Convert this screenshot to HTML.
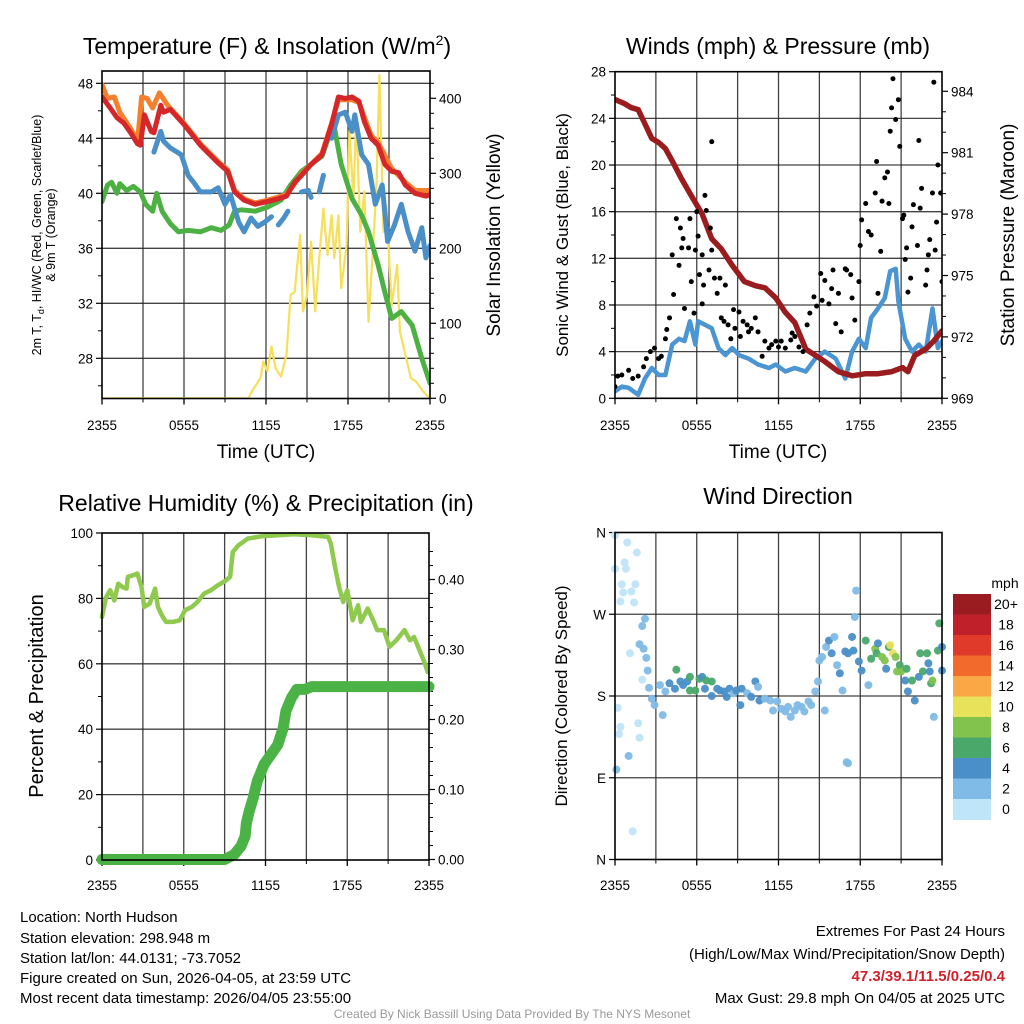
<!DOCTYPE html>
<html><head><meta charset="utf-8">
<style>
html,body{margin:0;padding:0;background:#fff;}
svg{display:block;font-family:"Liberation Sans",Arial,sans-serif;}
</style></head>
<body>
<svg id="fig" width="1024" height="1024" viewBox="0 0 1024 1024" xmlns="http://www.w3.org/2000/svg">
<rect x="0" y="0" width="1024" height="1024" fill="#fff"/>
<text x="267" y="54" font-size="23" text-anchor="middle">Temperature (F) &amp; Insolation (W/m<tspan dy="-9" font-size="14">2</tspan><tspan dy="9">)</tspan></text>
<text x="778" y="54" font-size="23" text-anchor="middle">Winds (mph) &amp; Pressure (mb)</text>
<text x="266" y="511" font-size="23" text-anchor="middle">Relative Humidity (%) &amp; Precipitation (in)</text>
<text x="778" y="504" font-size="23" text-anchor="middle">Wind Direction</text>

<text transform="translate(41,235) rotate(-90)" font-size="12.5" text-anchor="middle">2m T, T<tspan font-size="9" dy="3">d</tspan><tspan dy="-3">, HI/WC (Red, Green, Scarlet/Blue)</tspan></text>
<text transform="translate(55,235) rotate(-90)" font-size="12.5" text-anchor="middle">&amp; 9m T (Orange)</text>
<text transform="translate(500,235) rotate(-90)" font-size="19" text-anchor="middle">Solar Insolation (Yellow)</text>
<text transform="translate(568,235) rotate(-90)" font-size="17" text-anchor="middle">Sonic Wind &amp; Gust (Blue, Black)</text>
<text transform="translate(1014,235) rotate(-90)" font-size="19" text-anchor="middle">Station Pressure (Maroon)</text>
<text transform="translate(43,696) rotate(-90)" font-size="20" text-anchor="middle">Percent &amp; Precipitation</text>
<text transform="translate(567,696) rotate(-90)" font-size="17" text-anchor="middle">Direction (Colored By Speed)</text>
<text x="266" y="458" font-size="19" text-anchor="middle">Time (UTC)</text>
<text x="778" y="458" font-size="19" text-anchor="middle">Time (UTC)</text>

<g font-size="15">
<text x="20" y="922">Location: North Hudson</text>
<text x="20" y="943">Station elevation: 298.948 m</text>
<text x="20" y="963">Station lat/lon: 44.0131; -73.7052</text>
<text x="20" y="983">Figure created on Sun, 2026-04-05, at 23:59 UTC</text>
<text x="20" y="1003">Most recent data timestamp: 2026/04/05 23:55:00</text>
</g>
<g font-size="15" text-anchor="end">
<text x="1005" y="936">Extremes For Past 24 Hours</text>
<text x="1005" y="959">(High/Low/Max Wind/Precipitation/Snow Depth)</text>
<text x="1005" y="981" fill="#d0202a" font-weight="bold">47.3/39.1/11.5/0.25/0.4</text>
<text x="1005" y="1003">Max Gust: 29.8 mph On 04/05 at 2025 UTC</text>
</g>
<text x="512" y="1018" font-size="12" fill="#999" text-anchor="middle">Created By Nick Bassill Using Data Provided By The NYS Mesonet</text>
</svg>
<script>
// ---------- data ----------
const xTickLabels = ["2355","0555","1155","1755","2355"];
const tempTicks = [28,32,36,40,44,48];
const solarTicks = [0,100,200,300,400];
const windTicks = [0,4,8,12,16,20,24,28];
const presTicks = [969,972,975,978,981,984];
const rhTicks = [0,20,40,60,80,100];
const precipTicks = ["0.00","0.10","0.20","0.30","0.40"];
const dirTicks = ["N","E","S","W","N"];
const speedBins = ["0","2","4","6","8","10","12","14","16","18","20+"];
const speedColors = ["#bfe5f8","#7fbbe6","#4a8fc8","#4aa86a","#82c34e","#e8e25a","#f9a845","#f26a2c","#e03a2a","#c0202a","#9b1c20"];

const tempRed = [[0,47.0],[0.6,46.2],[1.1,45.5],[1.6,45.1],[2.1,44.4],[2.6,43.6],[2.8,43.5],[3.1,45.7],[3.6,44.5],[3.8,44.4],[4.3,46.4],[4.5,45.9],[5.0,46.1],[6.0,45.0],[7.2,43.5],[8.5,42.2],[9.2,41.6],[9.7,40.1],[10.4,39.5],[11.2,39.2],[12.1,39.4],[12.9,39.6],[13.5,39.8],[14.1,40.8],[14.6,41.3],[15.3,42.1],[16.1,42.8],[16.8,45.0],[17.3,47.0],[17.8,46.9],[18.3,47.0],[18.8,46.7],[19.2,45.2],[19.7,44.0],[20.2,43.5],[20.7,42.1],[21.2,41.6],[21.7,41.5],[22.2,40.6],[22.9,40.0],[23.7,39.8],[24,39.9]];
const tempOrange = [[0,47.9],[0.4,46.9],[0.9,47.0],[1.3,45.9],[2.1,44.7],[2.6,43.7],[2.9,47.0],[3.3,46.9],[3.7,46.2],[4.2,47.3],[4.8,46.4],[6.0,45.1],[7.2,43.6],[8.5,42.3],[9.2,41.7],[9.7,40.2],[10.4,39.6],[11.2,39.3],[12.1,39.5],[13.5,39.9],[14.6,41.4],[16.1,42.9],[16.8,45.1],[17.3,46.8],[18.3,46.8],[18.8,46.6],[19.7,44.2],[20.2,43.7],[21.2,41.8],[22.2,40.8],[22.9,40.2],[24,40.2]];
const tempDew = [[0,39.4],[0.4,40.6],[0.7,40.8],[1.1,40.0],[1.3,40.7],[1.8,40.2],[2.3,40.5],[2.8,40.1],[3.2,39.2],[3.7,38.7],[4.0,40.0],[4.4,38.7],[5.0,37.8],[5.6,37.2],[6.3,37.3],[7.2,37.2],[8.0,37.5],[8.7,37.3],[9.3,37.7],[9.7,38.7],[10.2,38.8],[11.2,38.7],[12.1,39.0],[13.1,39.5],[13.8,40.6],[14.6,41.6],[15.3,42.1],[16.1,42.7],[16.8,44.7],[17.0,44.8],[17.5,42.1],[18.3,39.6],[19.0,38.4],[19.5,37.2],[20.2,34.8],[20.7,32.8],[21.2,30.9],[21.9,31.4],[22.7,30.4],[23.4,28.0],[24,26.2]];
const tempHIWC = [[3.8,43.0],[4.3,44.5],[4.5,43.8],[5.0,43.3],[5.8,42.8],[6.3,41.3],[6.7,40.8],[7.2,40.1],[8.0,40.1],[8.5,40.4],[9.0,39.2],[9.4,39.9],[10.0,37.9],[10.4,37.2],[10.9,38.2],[11.4,37.6],[11.9,37.9],[12.4,38.3],null,[12.9,37.7],[13.3,38.2],[13.6,38.7],null,[14.6,40.1],[15.1,40.2],[15.3,39.7],null,[15.9,40.1],[16.2,41.3],null,[16.8,44.0],[17.3,45.7],[17.8,45.9],[18.3,44.5],[18.5,45.7],[19.0,42.8],[19.5,42.1],[20.0,39.2],[20.5,40.6],[20.9,36.5],[21.4,37.7],[21.9,39.2],[22.4,37.2],[22.9,35.8],[23.4,37.5],[23.7,35.3],[24,36.2]];
const solar = [[0,0],[10.7,0],[11.1,13],[11.6,27],[11.8,49],[12.1,36],[12.4,69],[12.7,40],[13.1,29],[13.5,58],[13.8,138],[14.1,142],[14.5,218],[14.7,116],[15.0,138],[15.3,209],[15.6,116],[15.9,187],[16.2,253],[16.5,191],[16.8,244],[17.0,187],[17.3,244],[17.5,147],[17.9,204],[18.1,356],[18.4,267],[18.6,378],[18.9,222],[19.2,276],[19.5,102],[19.9,222],[20.1,293],[20.3,431],[20.6,222],[20.8,258],[21.2,124],[21.6,178],[21.8,89],[22.2,58],[22.6,27],[23.0,22],[23.5,9],[24,0]];

const pressure = [[0,983.6],[0.7,983.4],[1.2,983.2],[1.7,983.1],[2.2,982.4],[2.7,981.7],[3.2,981.5],[3.7,981.2],[4.2,980.6],[4.9,979.7],[5.6,978.9],[6.4,978.0],[7.1,976.8],[7.8,976.3],[8.6,975.5],[9.5,974.7],[10.3,974.5],[11.0,974.4],[11.8,973.9],[12.5,973.2],[13.2,972.7],[14.0,971.4],[14.7,971.1],[15.4,970.8],[16.4,970.3],[17.4,970.1],[18.4,970.2],[19.3,970.2],[20.3,970.3],[21.1,970.5],[21.5,970.3],[22.0,971.1],[22.8,971.4],[23.4,971.8],[24,972.3]];
const windSpeed = [[0,0.6],[0.5,1.0],[1.0,0.9],[1.7,0.3],[2.2,1.7],[2.7,2.6],[3.2,2.0],[3.7,2.0],[4.2,4.6],[4.7,5.1],[5.1,4.9],[5.5,6.6],[5.9,4.6],[6.1,6.6],[6.6,6.3],[7.1,6.0],[7.6,4.3],[8.1,3.7],[8.6,4.3],[9.1,3.7],[9.8,3.4],[10.5,2.9],[11.3,2.6],[11.8,2.9],[12.5,2.3],[13.2,2.6],[14.0,2.3],[14.7,3.4],[15.4,4.0],[16.2,3.4],[16.9,1.7],[17.4,4.0],[17.9,5.1],[18.4,4.3],[18.8,6.9],[19.3,7.7],[19.8,8.6],[20.2,10.9],[20.6,11.1],[20.8,8.3],[21.3,5.1],[21.8,4.0],[22.3,4.6],[22.8,4.0],[23.3,7.7],[23.7,4.3],[24,4.9]];
const windGust = [[0,1.0],[0.2,1.9],[0.5,2.0],[1.0,2.4],[1.3,1.7],[1.7,1.9],[2.1,2.7],[2.3,3.4],[2.6,4.0],[2.9,4.3],[3.2,3.4],[3.4,3.6],[3.7,5.1],[3.8,5.9],[4.0,6.9],[4.2,12.3],[4.3,8.9],[4.5,15.4],[4.7,11.4],[4.8,14.6],[4.9,12.9],[5.0,13.7],[5.1,7.7],[5.4,12.9],[5.5,15.4],[5.6,10.0],[5.8,7.3],[5.9,12.7],[6.0,16.0],[6.1,13.9],[6.2,10.6],[6.4,12.3],[6.4,8.1],[6.5,9.7],[6.6,17.4],[6.7,16.1],[6.9,11.0],[7.0,14.6],[7.1,22.0],[7.1,12.7],[7.3,10.3],[7.5,9.0],[7.7,10.3],[7.8,6.9],[8.0,6.6],[8.1,9.7],[8.3,6.3],[8.5,5.1],[8.7,7.6],[8.8,6.0],[9.1,7.4],[9.2,5.3],[9.4,6.6],[9.7,6.3],[9.8,5.7],[10.0,6.0],[10.3,6.9],[10.5,5.7],[10.8,3.6],[11.0,4.9],[11.3,4.3],[11.5,4.6],[11.8,4.9],[12.0,4.4],[12.2,4.9],[12.5,4.3],[12.9,5.0],[13.0,5.6],[13.2,5.3],[13.5,4.4],[13.8,4.0],[14.1,6.3],[14.3,7.3],[14.6,8.7],[14.8,7.9],[15.1,10.7],[15.2,8.4],[15.4,10.1],[15.7,8.1],[15.9,9.4],[16.0,11.0],[16.2,6.4],[16.4,9.0],[16.6,5.7],[16.9,11.1],[17.0,11.0],[17.3,10.6],[17.4,8.6],[17.6,6.7],[17.9,10.0],[18.0,13.1],[18.1,15.3],[18.4,16.7],[18.6,14.3],[18.8,14.0],[19.1,17.6],[19.2,20.3],[19.3,9.0],[19.5,12.6],[19.6,16.9],[19.8,18.9],[20.0,19.4],[20.1,16.7],[20.2,22.9],[20.3,24.9],[20.4,27.4],[20.6,23.9],[20.8,25.6],[20.9,21.6],[21.1,15.4],[21.2,15.7],[21.3,11.9],[21.4,12.9],[21.5,9.1],[21.7,10.3],[21.8,14.7],[21.9,16.6],[22.2,13.1],[22.3,22.1],[22.4,16.3],[22.5,18.0],[22.8,9.7],[22.9,11.0],[23.0,12.3],[23.1,13.6],[23.3,17.6],[23.4,27.1],[23.5,12.7],[23.6,15.1],[23.7,20.0],[23.9,17.6],[24.0,10.0]];

const rh = [[0,74.3],[0.3,80.4],[0.6,82.5],[0.9,79.4],[1.2,84.5],[1.5,83.5],[1.8,83.0],[1.9,86.6],[2.3,87.1],[2.6,87.6],[2.9,83.5],[3.1,77.4],[3.5,78.4],[3.9,83.0],[4.1,77.4],[4.4,74.8],[4.7,72.8],[5.2,72.8],[5.7,73.3],[6.1,76.4],[6.6,77.4],[7.0,78.9],[7.5,81.5],[8.0,82.5],[8.5,84.0],[9.1,85.5],[9.4,86.6],[9.6,94.2],[10.0,96.2],[10.7,98.3],[11.7,99.0],[12.9,99.3],[14.1,99.6],[15.4,99.3],[16.6,98.8],[16.8,96.7],[17.1,89.6],[17.4,83.5],[17.7,78.9],[18.0,82.5],[18.4,73.3],[18.8,77.9],[19.0,72.8],[19.5,76.9],[19.9,73.3],[20.2,70.3],[20.7,70.3],[21.1,65.2],[21.6,67.2],[22.2,70.3],[22.6,67.2],[22.9,68.2],[23.3,64.2],[23.7,60.1],[23.9,57.5]];
const precip = [[0,0],[9.0,0],[9.7,0.007],[10.2,0.019],[10.5,0.033],[10.6,0.052],[10.8,0.069],[11.1,0.088],[11.4,0.112],[11.9,0.136],[12.4,0.150],[12.9,0.164],[13.3,0.188],[13.5,0.212],[13.9,0.231],[14.3,0.243],[14.9,0.243],[15.4,0.247],[24,0.247]];

const dirHours = [0,0.9,1.6,0.7,0,0.8,0.5,1.5,0.6,1.2,0.4,1.4,2.2,2.0,1.1,1.8,2.1,2.3,2.4,2.0,2.5,0.2,0.4,0.3,1.7,1.8,1.0,0.1,1.3,
2.7,2.9,3.3,3.5,3.7,4.0,4.4,4.5,4.8,5.0,5.3,5.5,5.5,5.9,6.2,6.4,6.6,6.7,7.1,7.1,7.5,7.7,8.0,8.2,8.4,8.7,8.9,9.2,9.3,9.7,10.0,10.3,10.5,10.6,11.0,11.4,11.6,11.9,12.2,12.5,12.7,12.9,13.2,13.4,13.7,13.9,14.2,14.4,14.7,14.9,15.4,15.0,15.2,15.5,15.7,15.9,16.1,16.3,16.5,16.7,16.9,17.1,17.4,17.5,17.6,17.7,17.0,17.1,17.9,18.1,18.4,18.6,18.8,19.1,19.2,19.3,19.6,19.8,19.9,20.1,20.2,20.4,20.6,20.7,20.9,21.0,21.3,21.4,21.5,21.8,22.0,22.3,22.4,22.6,22.9,23.0,23.1,23.2,23.3,23.4,23.7,23.8,24,24];
const dirDegrees = [357,349,338,327,320,320,303,303,294,295,284,283,265,257,227,237,232,222,208,198,189,167,146,138,150,134,114,99,31,
177,170,192,159,185,194,188,209,196,192,196,201,186,186,199,201,188,197,196,180,188,186,185,179,188,183,186,170,188,183,179,196,190,175,177,175,164,174,166,163,168,157,164,170,168,163,174,170,185,196,164,219,223,234,241,227,245,214,205,186,229,227,245,230,267,296,107,106,218,208,241,192,221,232,227,238,223,219,210,234,236,227,223,207,214,207,197,210,185,197,175,201,227,207,227,216,207,194,197,157,230,260,234,208];
const dirSpeeds = [1,1,1,1,1,1,1,1,1,1,1,1,3,2.5,1,2.5,3,3,2.5,1.5,3,1.5,1.5,1.5,1.5,1.5,3,2.5,1.5,
3,3,3,3,3,5,5,7,5,5,5,7,7,7,7,5,5,7,7,5,5,5,5,5,5,3,5,5,5,3,5,5,3,5,3,3,3,3,3,3,3,3,3,3,3,3,3,3,3,3,3,3,3,3,5,5,3,3,5,3,5,5,5,5,3,3,2.5,3,5,5,7,3,7,9,7,5,9,9,5,7,11,11,9,9,7,9,5,7,5,7,5,5,7,7,7,5,5,7,9,3,7,7,5,5];

// ---------- helpers ----------
const NS = "http://www.w3.org/2000/svg";
const svg = document.getElementById("fig");
function mk(tag, attrs, name, parent) {
  const el = document.createElementNS(NS, tag);
  for (const k in attrs) el.setAttribute(k, attrs[k]);
  
  
  (parent || svg).appendChild(el);
  return el;
}
function linearScale(d0, d1, r0, r1) { return v => r0 + (v - d0) / (d1 - d0) * (r1 - r0); }
function pathFrom(arr, xs, ys) {
  let d = "", pen = false;
  for (const p of arr) {
    if (p === null) { pen = false; continue; }
    d += (pen ? "L" : "M") + xs(p[0]).toFixed(1) + "," + ys(p[1]).toFixed(1);
    pen = true;
  }
  return d;
}

function frame(name, x0, x1, yT, yB, gridY, leftTicks, rightTicks, minorL, minorR, xLabY) {
  const g = mk("g", {}, name + "-axes");
  const xs = linearScale(0, 24, x0, x1);
  for (let h = 3; h < 24; h += 3) {
    mk("line", {x1: xs(h), x2: xs(h), y1: yT, y2: yB, stroke: "#222", "stroke-width": 1.3, "stroke-opacity": 0.85}, name + "-vgrid", g);
  }
  for (const y of gridY) {
    mk("line", {x1: x0, x2: x1, y1: y, y2: y, stroke: "#222", "stroke-width": 1.3, "stroke-opacity": 0.85}, name + "-hgrid", g);
  }
  for (let i = 0; i < xTickLabels.length; i++) {
    const x = xs(i * 6);
    mk("line", {x1: x, x2: x, y1: yB, y2: yB + 6, stroke: "#000", "stroke-width": 1.3}, name + "-x-tick", g);
    const t = mk("text", {x: x, y: xLabY, "font-size": 13.5, "text-anchor": "middle"}, name + "-x-tick-label", g);
    t.textContent = xTickLabels[i];
  }
  for (let h = 3; h < 24; h += 6) {
    mk("line", {x1: xs(h), x2: xs(h), y1: yB, y2: yB + 4, stroke: "#000", "stroke-width": 1}, name + "-x-minor-tick", g);
  }
  for (const t of leftTicks) {
    mk("line", {x1: x0 - 6, x2: x0, y1: t.y, y2: t.y, stroke: "#000", "stroke-width": 1.2}, name + "-left-tick", g);
    const tx = mk("text", {x: x0 - 9, y: t.y + 5, "font-size": 13.5, "text-anchor": "end"}, name + "-left-tick-label", g);
    tx.textContent = t.label;
  }
  for (const y of minorL) mk("line", {x1: x0 - 4, x2: x0, y1: y, y2: y, stroke: "#000", "stroke-width": 1}, name + "-left-minor-tick", g);
  for (const t of rightTicks) {
    mk("line", {x1: x1, x2: x1 + 6, y1: t.y, y2: t.y, stroke: "#000", "stroke-width": 1.2}, name + "-right-tick", g);
    const tx = mk("text", {x: x1 + 9, y: t.y + 5, "font-size": 13.5, "text-anchor": "start"}, name + "-right-tick-label", g);
    tx.textContent = t.label;
  }
  for (const y of minorR) mk("line", {x1: x1, x2: x1 + 4, y1: y, y2: y, stroke: "#000", "stroke-width": 1}, name + "-right-minor-tick", g);
  return xs;
}
function border(name, x0, x1, yT, yB) {
  mk("rect", {x: x0, y: yT, width: x1 - x0, height: yB - yT, fill: "none", stroke: "#000", "stroke-width": 1.6}, name + "-plot-border");
}

// ---------- Panel 1: temperature ----------
(function(){
  const x0 = 102, x1 = 430, yT = 71, yB = 398.5;
  const yL = linearScale(48, 28, 83.3, 358.3);
  const yR = linearScale(0, 400, 398.3, 98.3);
  const minorL = []; for (let v = 26; v <= 48; v += 2) if (v % 4) minorL.push(yL(v));
  const minorR = []; for (let v = 20; v <= 420; v += 20) if (v % 100) minorR.push(yR(v));
  const xs = frame("temperature", x0, x1, yT, yB, tempTicks.map(yL),
    tempTicks.map(v => ({y: yL(v), label: String(v)})),
    solarTicks.map(v => ({y: yR(v), label: String(v)})), minorL, minorR, 430);
  const clip = mk("clipPath", {id: "c1"}, "temperature-clip");
  mk("rect", {x: x0, y: yT, width: x1 - x0, height: yB - yT}, "temperature-clip-rect", clip);
  const g = mk("g", {"clip-path": "url(#c1)", fill: "none", "stroke-linejoin": "round", "stroke-linecap": "round"}, "temperature-series");
  mk("path", {d: pathFrom(solar, xs, yR), stroke: "#f6df5a", "stroke-width": 2.2}, "solar-insolation-line", g);
  mk("path", {d: pathFrom(tempDew, xs, yL), stroke: "#4cb042", "stroke-width": 5}, "dewpoint-line", g);
  mk("path", {d: pathFrom(tempHIWC, xs, yL), stroke: "#4a8fc8", "stroke-width": 5}, "heat-index-windchill-line", g);
  mk("path", {d: pathFrom(tempOrange, xs, yL), stroke: "#f47f2c", "stroke-width": 5}, "temp-9m-line", g);
  mk("path", {d: pathFrom(tempRed, xs, yL), stroke: "#d5262a", "stroke-width": 5}, "temp-2m-line", g);
  border("temperature", x0, x1, yT, yB);
})();

// ---------- Panel 2: winds ----------
(function(){
  const x0 = 615, x1 = 942, yT = 71.7, yB = 398.3;
  const yL = linearScale(0, 28, 398.3, 71.7);
  const yR = linearScale(969, 984, 398.3, 91.3);
  const minorL = []; for (let v = 2; v <= 28; v += 4) minorL.push(yL(v));
  const minorR = []; for (let v = 970; v <= 984; v += 1) if ((v - 969) % 3) minorR.push(yR(v));
  const xs = frame("winds", x0, x1, yT, yB, windTicks.slice(1, 7).map(yL),
    windTicks.map(v => ({y: yL(v), label: String(v)})),
    presTicks.map(v => ({y: yR(v), label: String(v)})), minorL, minorR, 430);
  const clip = mk("clipPath", {id: "c2"}, "winds-clip");
  mk("rect", {x: x0, y: yT, width: x1 - x0, height: yB - yT}, "winds-clip-rect", clip);
  const g = mk("g", {"clip-path": "url(#c2)", fill: "none", "stroke-linejoin": "round", "stroke-linecap": "round"}, "winds-series");
  mk("path", {d: pathFrom(windSpeed, xs, yL), stroke: "#4a95d2", "stroke-width": 4.5}, "wind-speed-line", g);
  mk("path", {d: pathFrom(pressure, xs, yR), stroke: "#9b1c1f", "stroke-width": 5.5}, "pressure-line", g);
  for (const p of windGust) {
    mk("circle", {cx: xs(p[0]), cy: yL(p[1]), r: 2.5, fill: "#000"}, "gust-point", g);
  }
  border("winds", x0, x1, yT, yB);
})();

// ---------- Panel 3: RH & precip ----------
(function(){
  const x0 = 102, x1 = 429, yT = 533, yB = 860;
  const yL = linearScale(0, 100, 860, 533);
  const yR = linearScale(0, 0.4, 859.5, 579.5);
  const minorL = []; for (let v = 10; v <= 100; v += 20) minorL.push(yL(v));
  const minorR = []; for (let v = 0.02; v <= 0.46; v += 0.02) if (Math.round(v * 100) % 10) minorR.push(yR(v));
  const xs = frame("humidity", x0, x1, yT, yB, [20, 40, 60, 80].map(yL),
    rhTicks.map(v => ({y: yL(v), label: String(v)})),
    precipTicks.map(v => ({y: yR(parseFloat(v)), label: v})), minorL, minorR, 890);
  const g = mk("g", {fill: "none", "stroke-linejoin": "round", "stroke-linecap": "round"}, "humidity-series");
  mk("path", {d: pathFrom(rh, xs, yL), stroke: "#8fca4e", "stroke-width": 4.5}, "relative-humidity-line", g);
  mk("path", {d: pathFrom(precip, xs, yR), stroke: "#4bb346", "stroke-width": 11}, "precipitation-line", g);
  border("humidity", x0, x1, yT, yB);
})();

// ---------- Panel 4: wind direction ----------
(function(){
  const x0 = 615, x1 = 942, yT = 532.5, yB = 859.5;
  const yD = linearScale(0, 360, 859.5, 532.5);
  const xs = frame("direction", x0, x1, yT, yB, [90, 180, 270].map(yD),
    dirTicks.map((l, i) => ({y: yD(i * 90), label: l})), [], [], [], 890);
  const g = mk("g", {}, "direction-series");
  for (let i = 0; i < dirHours.length; i++) {
    const bin = Math.min(10, Math.floor(dirSpeeds[i] / 2));
    mk("circle", {cx: xs(dirHours[i]), cy: yD(dirDegrees[i]), r: 4, fill: speedColors[bin], "fill-opacity": 0.95}, "direction-point", g);
  }
  border("direction", x0, x1, yT, yB);
  const cb = mk("g", {}, "speed-colorbar");
  const t = mk("text", {x: 1005, y: 588, "font-size": 14, "text-anchor": "middle"}, "colorbar-unit-label", cb);
  t.textContent = "mph";
  const segH = 20.5, top = 594;
  for (let i = 0; i < speedBins.length; i++) {
    const idx = speedBins.length - 1 - i;
    mk("rect", {x: 953, y: top + i * segH, width: 38, height: segH + 0.5, fill: speedColors[idx]}, "colorbar-segment", cb);
    const lb = mk("text", {x: 1006, y: top + i * segH + 15, "font-size": 14, "text-anchor": "middle"}, "colorbar-label", cb);
    lb.textContent = speedBins[idx];
  }
})();
</script>
</body></html>
